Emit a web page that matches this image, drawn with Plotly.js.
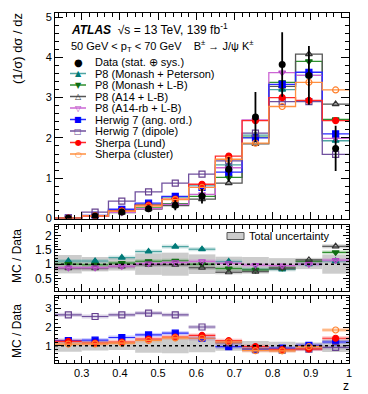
<!DOCTYPE html>
<html>
<head>
<meta charset="utf-8">
<script src="https://cdn.plot.ly/plotly-3.0.1.min.js"></script>
<style>
  html, body { margin: 0; padding: 0; background: #fff; }
  #chart { width: 368px; height: 394px; }
</style>
</head>
<body>
<div id="chart"></div>
<script>
// z bins (width 0.07)
const binEdges = [0.23, 0.30, 0.37, 0.44, 0.51, 0.58, 0.65, 0.72, 0.79, 0.86, 0.93, 1.00];
const zCenters = [0.265, 0.335, 0.405, 0.475, 0.545, 0.615, 0.685, 0.755, 0.825, 0.895, 0.965];

// data, (1/sigma) dsigma/dz
const dataVals = [0.006, 0.06, 0.16, 0.24, 0.33, 0.55, 1.22, 2.52, 3.82, 3.55, 1.74];
const dataErr  = [0.003, 0.015, 0.035, 0.08, 0.125, 0.18, 0.3, 0.62, 0.8, 0.73, 0.56];
// total relative uncertainty (ratio panels)
const totalUnc = [0.32, 0.25, 0.22, 0.37, 0.4, 0.34, 0.26, 0.25, 0.21, 0.17, 0.33];

// MC predictions, main panel
const p8MonashPeterson = [0.007, 0.067, 0.2, 0.35, 0.53, 0.83, 1.33, 2.07, 3.2, 3.55, 1.93];
const p8MonashLB       = [0.006, 0.059, 0.165, 0.265, 0.37, 0.55, 1.02, 2.02, 3.38, 3.9, 2.46];
const p8A14LB          = [0.005, 0.052, 0.147, 0.235, 0.32, 0.48, 0.88, 1.85, 3.28, 4.08, 2.84];
const p8A14rbLB        = [0.0053, 0.053, 0.15, 0.245, 0.35, 0.6, 1.26, 2.45, 3.62, 3.55, 1.99];
const herwigAngOrd     = [0.008, 0.078, 0.23, 0.38, 0.55, 0.77, 1.15, 2.0, 3.33, 3.63, 2.1];
const herwigDipole     = [0.016, 0.16, 0.43, 0.66, 0.88, 1.1, 1.43, 2.12, 2.9, 2.9, 1.59];
const sherpaLund       = [0.0074, 0.068, 0.19, 0.33, 0.48, 0.85, 1.55, 2.43, 3.0, 2.93, 2.43];
const sherpaCluster    = [0.0065, 0.066, 0.18, 0.31, 0.47, 0.77, 1.47, 1.87, 2.78, 3.38, 3.19];

// MC / Data
const rP8MonashPeterson = [1.11, 1.11, 1.23, 1.44, 1.61, 1.52, 1.09, 0.82, 0.82, 1.0, 1.11];
const rP8MonashLB       = [1.0, 0.98, 1.04, 1.1, 1.12, 1.0, 0.85, 0.8, 0.88, 1.1, 1.41];
const rP8A14LB          = [0.86, 0.86, 0.92, 0.98, 0.98, 0.88, 0.72, 0.74, 0.86, 1.15, 1.62];
const rP8A14rbLB        = [0.88, 0.88, 0.93, 1.02, 1.06, 1.1, 1.03, 0.97, 0.95, 1.0, 1.14];
const rHerwigAngOrd     = [1.28, 1.3, 1.44, 1.58, 1.67, 1.4, 0.95, 0.79, 0.87, 1.02, 1.2];
const rHerwigDipole     = [2.65, 2.56, 2.65, 2.74, 2.65, 2.0, 1.15, 0.85, 0.76, 0.82, 0.91];
const rSherpaLund       = [1.23, 1.14, 1.2, 1.36, 1.46, 1.55, 1.27, 0.96, 0.79, 0.83, 1.4];
const rSherpaCluster    = [1.09, 1.1, 1.14, 1.28, 1.42, 1.4, 1.2, 0.74, 0.73, 0.95, 1.84];

const legendLabels = ['Data (stat. \u2295 sys.)', 'P8 (Monash + Peterson)', 'P8 (Monash + L-B)',
  'P8 (A14 + L-B)', 'P8 (A14-rb + L-B)', 'Herwig 7 (ang. ord.)', 'Herwig 7 (dipole)',
  'Sherpa (Lund)', 'Sherpa (cluster)'];

const FONT = 'Liberation Sans, Arial, Helvetica, sans-serif';

// estilos de cada MC (panel: 2 = ratio P8, 3 = ratio Herwig/Sherpa)
const mcSeries = [
  { main: p8MonashPeterson, ratio: rP8MonashPeterson, panel: 2, color: '#007a78', line: '#4fa5a3', symbol: 'triangle-up', glyph: '\u25B2' },
  { main: p8MonashLB, ratio: rP8MonashLB, panel: 2, color: '#0f6e12', line: '#2f8f2f', symbol: 'triangle-down', glyph: '\u25BC' },
  { main: p8A14LB, ratio: rP8A14LB, panel: 2, color: '#333333', line: '#555555', symbol: 'triangle-up-open', glyph: '\u25B3' },
  { main: p8A14rbLB, ratio: rP8A14rbLB, panel: 2, color: '#b445c4', line: '#cc66d4', symbol: 'triangle-down-open', glyph: '\u25BD' },
  { main: herwigAngOrd, ratio: rHerwigAngOrd, panel: 3, color: '#0000ff', line: '#2a2aff', symbol: 'square', glyph: '\u25A0' },
  { main: herwigDipole, ratio: rHerwigDipole, panel: 3, color: '#66418f', line: '#70509e', symbol: 'square-open', glyph: '\u25A1' },
  { main: sherpaLund, ratio: rSherpaLund, panel: 3, color: '#ff0000', line: '#ff2a2a', symbol: 'circle', glyph: '\u25CF' },
  { main: sherpaCluster, ratio: rSherpaCluster, panel: 3, color: '#ff7f2a', line: '#ff9040', symbol: 'circle-open', glyph: '\u25CB' }
];

// pixel helpers (solo para decoraciones del layout)
const W = 368, H = 394;
const M = { l: 55, r: 19, t: 13, b: 31 };
const PW = W - M.l - M.r, PH = H - M.t - M.b;
const py = y => (H - M.b - y) / PH;
// panel bounds in pixels
const P1 = [13, 218.5], P2 = [225, 291], P3 = [295.5, 363];
const dx = x => (x - M.l) / PW;                       // x in axis-domain units
const dy = (y, P) => (P[1] - y) / (P[1] - P[0]);      // y in axis-domain units

function stepLine(vals) {
  // histograma de pasos sobre los bordes de bin
  return { x: binEdges, y: vals.concat([vals[vals.length - 1]]) };
}
function segments(vals) {
  const x = [], y = [];
  vals.forEach((v, i) => { x.push(binEdges[i], binEdges[i + 1], null); y.push(v, v, null); });
  return { x, y };
}

const traces = [];

// bandas de incertidumbre total en los ratios
['2', '3'].forEach(k => {
  traces.push({
    type: 'bar', x: zCenters, y: totalUnc.map(e => 2 * e), base: totalUnc.map(e => 1 - e),
    width: 0.07, marker: { color: '#cccccc', line: { width: 0 } },
    xaxis: 'x' + k, yaxis: 'y' + k, hoverinfo: 'skip', showlegend: false
  });
});

// MC: histogramas en el panel principal + ratios
mcSeries.forEach(s => {
  const st = stepLine(s.main);
  traces.push({ x: st.x, y: st.y, mode: 'lines', line: { color: s.line, width: 1.3, shape: 'hv' },
    xaxis: 'x', yaxis: 'y', hoverinfo: 'skip', showlegend: false });
  traces.push({ x: zCenters, y: s.main, mode: 'markers',
    marker: { symbol: s.symbol, size: 6, color: s.color, line: { color: s.color, width: 1.2 } },
    xaxis: 'x', yaxis: 'y', showlegend: false });

  const sg = segments(s.ratio);
  const k = String(s.panel);
  traces.push({ x: sg.x, y: sg.y, mode: 'lines', line: { color: s.line, width: 4 }, opacity: 0.25,
    xaxis: 'x' + k, yaxis: 'y' + k, hoverinfo: 'skip', showlegend: false });
  traces.push({ x: sg.x, y: sg.y, mode: 'lines', line: { color: s.line, width: 1.2 },
    xaxis: 'x' + k, yaxis: 'y' + k, hoverinfo: 'skip', showlegend: false });
  traces.push({ x: zCenters, y: s.ratio, mode: 'markers',
    marker: { symbol: s.symbol, size: 6, color: s.color, line: { color: s.color, width: 1.2 } },
    xaxis: 'x' + k, yaxis: 'y' + k, showlegend: false });
});

// datos encima
traces.push({
  x: zCenters, y: dataVals, mode: 'markers',
  marker: { symbol: 'circle', size: 7, color: '#000' },
  error_y: { type: 'data', array: dataErr, color: '#000', thickness: 1.8, width: 0 },
  xaxis: 'x', yaxis: 'y', showlegend: false
});

const axBase = {
  showline: true, linecolor: '#000', linewidth: 1, mirror: 'allticks',
  ticks: 'inside', tickcolor: '#000', tickwidth: 1, showgrid: false, zeroline: false,
  tickfont: { family: FONT, size: 11, color: '#000' }
};
const xBase = Object.assign({}, axBase, {
  range: [0.23, 1.0], tick0: 0, dtick: 0.1, ticklen: 7,
  minor: { dtick: 0.02, ticklen: 3.5, ticks: 'inside', tickcolor: '#000' }
});

const shapes = [];
// línea punteada en 1
['2', '3'].forEach(k => {
  shapes.push({ type: 'line', xref: 'x' + k + ' domain', yref: 'y' + k, x0: 0, x1: 1, y0: 1, y1: 1,
    line: { color: '#000', width: 1.5, dash: 'dot' }, layer: 'above' });
});

const annotations = [];
function note(text, xref, yref, x, y, opts) {
  annotations.push(Object.assign({ text, xref, yref, x, y, showarrow: false,
    xanchor: 'center', yanchor: 'middle', font: { family: FONT, size: 11, color: '#000' } }, opts || {}));
}

// títulos de ejes
note('(1/\u03C3) d\u03C3 / dz', 'x domain', 'y domain', dx(17), dy(49, P1),
  { textangle: -90, font: { family: FONT, size: 13, color: '#000' } });
note('MC / Data', 'x2 domain', 'y2 domain', dx(17), dy(256, P2),
  { textangle: -90, font: { family: FONT, size: 12, color: '#000' } });
note('MC / Data', 'x3 domain', 'y3 domain', dx(17), dy(331, P3),
  { textangle: -90, font: { family: FONT, size: 12, color: '#000' } });
note('z', 'x3 domain', 'y3 domain', dx(346), dy(386, P3), { font: { family: FONT, size: 12, color: '#000' } });

// cabecera ATLAS
note('<b><i>ATLAS</i></b>  \u221As = 13 TeV, 139 fb<sup>-1</sup>', 'x domain', 'y domain', dx(69), dy(29, P1),
  { xanchor: 'left', font: { family: FONT, size: 12, color: '#000' } });
note('50 GeV &lt; p<sub>T</sub> &lt; 70 GeV    B<sup>\u00B1</sup> \u2192 J/\u03C8 K<sup>\u00B1</sup>',
  'x domain', 'y domain', dx(69), dy(46, P1), { xanchor: 'left' });

// leyenda manual
const legendColors = ['#000'].concat(mcSeries.map(s => s.color));
const legendLines = [null].concat(mcSeries.map(s => s.line));
const legendGlyphs = ['\u25CF'].concat(mcSeries.map(s => s.glyph));
legendLabels.forEach((lab, i) => {
  const yy = 62 + 11.5 * i;
  if (legendLines[i]) {
    shapes.push({ type: 'line', xref: 'x domain', yref: 'y domain', x0: dx(70), x1: dx(86),
      y0: dy(yy, P1), y1: dy(yy, P1), line: { color: legendLines[i], width: 1.5 } });
  }
  note(legendGlyphs[i], 'x domain', 'y domain', dx(78), dy(yy, P1),
    { font: { family: 'DejaVu Sans', size: i === 0 ? 10 : 8, color: legendColors[i] } });
  note(lab, 'x domain', 'y domain', dx(93), dy(yy, P1), { xanchor: 'left' });
});

// leyenda de la banda
shapes.push({ type: 'rect', xref: 'x2 domain', yref: 'y2 domain', x0: dx(227), x1: dx(244),
  y0: dy(239.5, P2), y1: dy(232.5, P2), fillcolor: '#cccccc', line: { color: '#555', width: 1 } });
note('Total uncertainty', 'x2 domain', 'y2 domain', dx(247), dy(236, P2), { xanchor: 'left' });

const layout = {
  width: W, height: H, margin: M, showlegend: false,
  paper_bgcolor: '#fff', plot_bgcolor: '#fff',
  font: { family: FONT, color: '#000' },
  xaxis: Object.assign({}, xBase, { anchor: 'y', showticklabels: false }),
  xaxis2: Object.assign({}, xBase, { anchor: 'y2', showticklabels: false }),
  xaxis3: Object.assign({}, xBase, { anchor: 'y3', showticklabels: true }),
  yaxis: Object.assign({}, axBase, { domain: [py(P1[1]), py(P1[0])], range: [0, 5.1], dtick: 1, ticklen: 8,
    minor: { dtick: 0.2, ticklen: 4, ticks: 'inside', tickcolor: '#000' } }),
  yaxis2: Object.assign({}, axBase, { domain: [py(P2[1]), py(P2[0])], range: [0.07, 2.36],
    tickvals: [0.5, 1, 1.5, 2], ticklen: 6, tickfont: { family: FONT, size: 12, color: '#000' },
    minor: { dtick: 0.1, ticklen: 3, ticks: 'inside', tickcolor: '#000' } }),
  yaxis3: Object.assign({}, axBase, { domain: [py(P3[1]), py(P3[0])], range: [0.08, 3.68], dtick: 1, ticklen: 6,
    tickfont: { family: FONT, size: 11.5, color: '#000' },
    minor: { dtick: 0.2, ticklen: 3, ticks: 'inside', tickcolor: '#000' } }),
  shapes: shapes,
  annotations: annotations
};

Plotly.newPlot('chart', traces, layout, { staticPlot: true, displayModeBar: false });
</script>
</body>
</html>
